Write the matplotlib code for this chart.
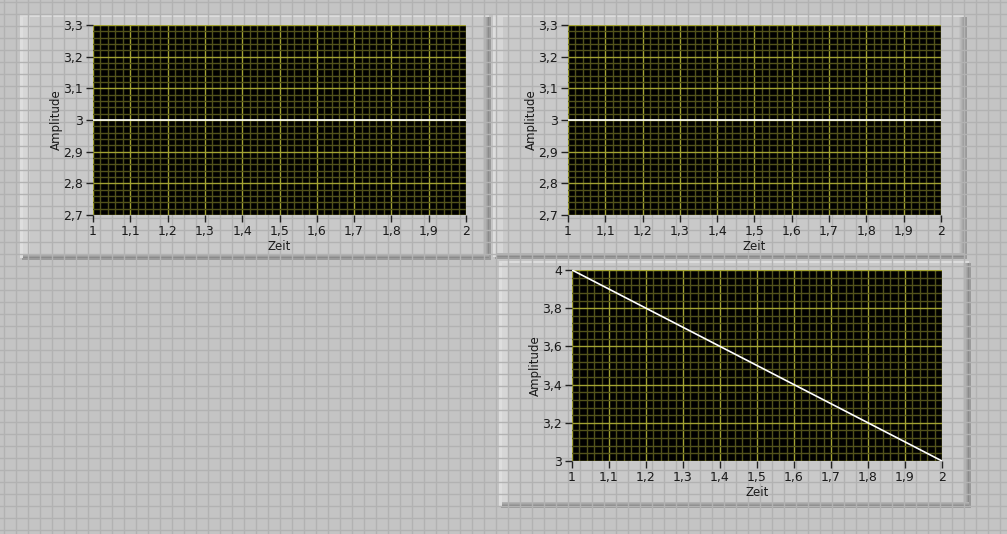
import matplotlib.pyplot as plt
from matplotlib.patches import Rectangle
from matplotlib.ticker import MultipleLocator, FuncFormatter

# data
zeit = [1, 2]
amp_top_left = [3, 3]
amp_top_right = [3, 3]
amp_bottom = [4, 3]

x_ticks = [1, 1.1, 1.2, 1.3, 1.4, 1.5, 1.6, 1.7, 1.8, 1.9, 2]
y_ticks_top = [2.7, 2.8, 2.9, 3, 3.1, 3.2, 3.3]
y_ticks_bottom = [3, 3.2, 3.4, 3.6, 3.8, 4]

W, H = 1007, 534
fig = plt.figure(figsize=(W / 100, H / 100), dpi=100)
fig.patch.set_facecolor("#c4c4c4")

# front panel background with its grid
bg = fig.add_axes([0, 0, 1, 1])
bg.set_xlim(0, W)
bg.set_ylim(H, 0)
bg.axis("off")
for gx in range(4, W, 12):
    bg.axvline(gx, color="#b2b2b2", lw=1)
for gy in range(2, H, 12):
    bg.axhline(gy, color="#b2b2b2", lw=1)


def panel(x0, y0, x1, y1):
    w, h = x1 - x0, y1 - y0
    # soft shadow
    bg.add_patch(Rectangle((x0 + 2, y0 + 2), w, h, color="#9a9a9a", lw=0))
    bg.add_patch(Rectangle((x0, y0), w, h, color="#c9c9c9", lw=0))
    # light bevel left and top
    bg.add_patch(Rectangle((x0, y0), 10, h, color="#d6d6d6", lw=0))
    bg.add_patch(Rectangle((x0, y0), 3, h, color="#dedede", lw=0))
    bg.add_patch(Rectangle((x0, y0), w, 2, color="#dcdcdc", lw=0))
    # rounded darker right and bottom edge
    shades = ["#c2c2c2", "#bababa", "#b2b2b2", "#a8a8a8", "#9c9c9c", "#8a8a8a"]
    for i, c in enumerate(shades):
        bg.add_patch(Rectangle((x1 - 6 + i, y0 + 2), 1, h - 2, color=c, lw=0))
    for i, c in enumerate(shades[2:]):
        bg.add_patch(Rectangle((x0 + 3, y1 - 4 + i), w - 3, 1, color=c, lw=0))


panel(20, 15, 489, 258)
panel(493, 15, 965, 257)
panel(499, 261, 969, 506)

comma = FuncFormatter(lambda v, p: ("%g" % round(v, 3)).replace(".", ","))


def graph(l, t, r, b, x, y, yticks):
    ax = fig.add_axes([l / W, 1 - b / H, (r - l) / W, (b - t) / H])
    ax.set_facecolor("black")
    ax.set_xlim(x_ticks[0], x_ticks[-1])
    ax.set_ylim(yticks[0], yticks[-1])
    ax.set_xticks(x_ticks)
    ax.set_yticks(yticks)
    step_y = yticks[1] - yticks[0]
    ax.xaxis.set_minor_locator(MultipleLocator(0.02))
    ax.yaxis.set_minor_locator(MultipleLocator(step_y / 5))
    ax.xaxis.set_major_formatter(comma)
    ax.yaxis.set_major_formatter(comma)
    ax.grid(which="minor", color="#52521b", lw=1)
    ax.grid(which="major", color="#a2a232", lw=1)
    ax.tick_params(which="minor", length=0)
    ax.tick_params(which="major", length=5, width=1, color="#222222",
                   labelsize=9, labelcolor="#1a1a1a", pad=2)
    for s in ax.spines.values():
        s.set_visible(False)
    ax.plot(x, y, color="white", lw=1.2)
    ax.set_xlabel("Zeit", fontsize=8.5, labelpad=2, color="#1a1a1a")
    ax.set_ylabel("Amplitude", fontsize=8.5, labelpad=0, color="#1a1a1a")
    return ax


graph(93, 25, 466, 215, zeit, amp_top_left, y_ticks_top)
graph(568, 25, 941, 215, zeit, amp_top_right, y_ticks_top)
graph(572, 270, 942, 461, zeit, amp_bottom, y_ticks_bottom)

fig.savefig("out.png", dpi=100, facecolor=fig.get_facecolor())
